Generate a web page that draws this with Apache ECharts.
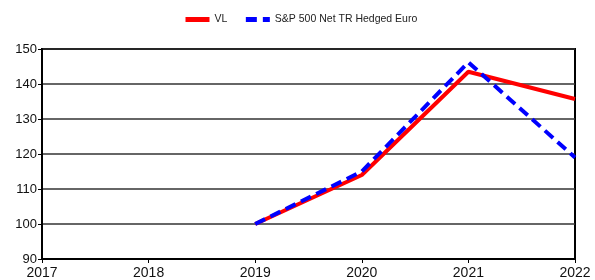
<!DOCTYPE html>
<html>
<head>
<meta charset="utf-8">
<script src="https://cdn.jsdelivr.net/npm/echarts@6/dist/echarts.min.js"></script>
<style>
  html, body { margin: 0; padding: 0; background: #fff; }
  #chart { width: 595px; height: 280px; }
</style>
</head>
<body>
<div id="chart"></div>
<script>
  const years = ['2017', '2018', '2019', '2020', '2021', '2022'];
  const vl = [null, null, 100, 114, 143.5, 135.7];
  const sp500 = [null, null, 100, 115, 146.2, 119];
  const seriesNames = ['VL', 'S&P 500 Net TR Hedged Euro'];

  const chart = echarts.init(document.getElementById('chart'));
  const option = {
    animation: false,
    textStyle: { fontFamily: 'Liberation Sans, Arial, sans-serif' },
    legend: {
      top: 9,
      left: 178,
      itemWidth: 24,
      itemHeight: 6,
      itemGap: 16,
      textStyle: { fontSize: 10.5, color: '#222' },
      itemStyle: { opacity: 0, borderWidth: 0 },
      lineStyle: { width: 5 },
      data: seriesNames
    },
    grid: {
      left: 42,
      right: 20,
      top: 49,
      bottom: 21,
      show: true,
      borderColor: '#000',
      borderWidth: 2,
      containLabel: false
    },
    xAxis: {
      type: 'category',
      boundaryGap: false,
      data: years,
      axisLine: { lineStyle: { color: '#000', width: 2 } },
      axisTick: { show: true, length: 4, lineStyle: { color: '#000' } },
      axisLabel: { fontSize: 14, color: '#111', margin: 7 }
    },
    yAxis: {
      type: 'value',
      min: 90,
      max: 150,
      interval: 10,
      axisLine: { show: true, lineStyle: { color: '#000', width: 2 } },
      axisTick: { show: true, length: 4, lineStyle: { color: '#000' } },
      axisLabel: { fontSize: 13, color: '#111', margin: 5 },
      splitLine: { lineStyle: { color: '#333', width: 1.5 } }
    },
    series: [
      {
        name: seriesNames[0],
        type: 'line',
        data: vl,
        symbol: 'none',
        color: '#ff0000',
        lineStyle: { color: '#ff0000', width: 4 },
        z: 2
      },
      {
        name: seriesNames[1],
        type: 'line',
        data: sp500,
        symbol: 'none',
        color: '#0000ff',
        lineStyle: { color: '#0000ff', width: 4, type: [11, 6] },
        z: 3
      }
    ]
  };
  chart.setOption(option);
</script>
</body>
</html>
